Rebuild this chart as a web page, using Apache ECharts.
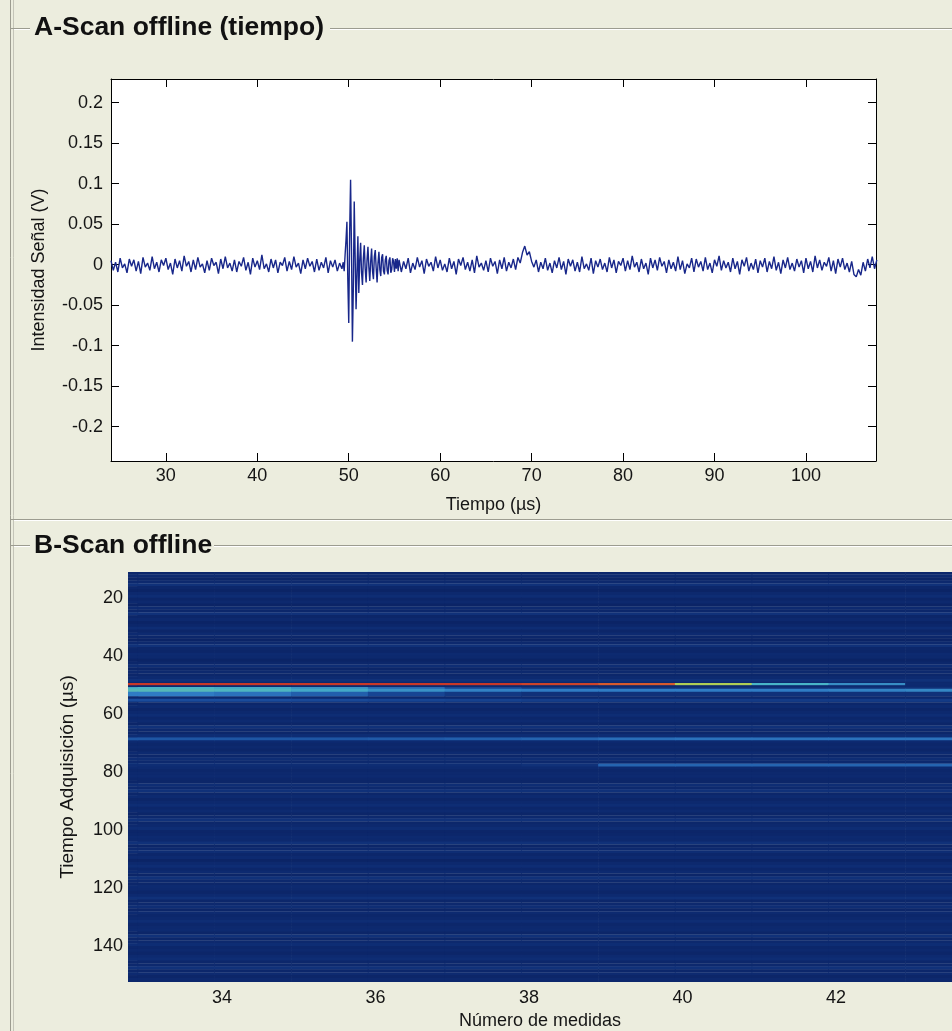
<!DOCTYPE html>
<html>
<head>
<meta charset="utf-8">
<script src="https://cdn.jsdelivr.net/npm/echarts@6/dist/echarts.min.js"></script>
<style>
html,body{margin:0;padding:0;background:#ecedde;overflow:hidden}
#c{width:952px;height:1031px}
</style>
</head>
<body>
<div id="c"></div>
<script>
// ---------------- DATA ----------------
const panelTitleA = 'A-Scan offline (tiempo)';
const panelTitleB = 'B-Scan offline';

// A-Scan: time axis ticks (µs) and amplitude ticks (V)
const ascanTimeTicks = [30, 40, 50, 60, 70, 80, 90, 100];
const ascanVoltTicks = [-0.2, -0.15, -0.1, -0.05, 0, 0.05, 0.1, 0.15, 0.2];

// A-Scan samples (millivolts)
const ascanPreStart = 24.0, ascanPreStep = 0.25;
const ascanPreMilliVolts = [
  5,-7,3,-9,8,-4,1,-10,7,-2, 6,-8,4,-11,9,-3,2,-7,10,-5,
  3,-9,6,-1,8,-6,2,-12,7,-4, 5,-8,11,-2,4,-9,6,-6,9,-3,
  1,-10,5,-7,8,-1,3,-11,7,-5, 10,-4,2,-8,6,-9,4,-2,9,-7,
  3,-12,8,-3,5,-6,12,-5,1,-9, 7,-4,6,-10,3,-1,9,-8,4,-6,
  10,-3,2,-11,6,-5,8,-2,4,-9, 7,-7,3,-4,9,-10,5,-3,6,-8,
  2,-5
];
const ascanBurstStart = 49.4, ascanBurstStep = 0.1;
const ascanBurstMilliVolts = [
  3,-8,12,30,53,-20,-72,40,105,20,
  -95,-30,78,10,-55,-10,35,-35,5,27,
  -10,-25,8,24,-5,-22,6,22,-3,-20,
  4,20,-8,-18,10,18,-4,-22,2,16,
  -6,-14,9,13,-8,-12,6,11,-7,-12,
  5,9,-10,-6,8,4,-9,7,-5,8,
  -8
];
const ascanPostStart = 55.5, ascanPostStep = 0.25;
const ascanPostMilliVolts = [
  6,-9,4,-5,8,-10,2,-6,9,-3,
  5,-11,7,-2,3,-8,10,-4,6,-7,
  1,-9,8,-5,4,-12,7,-1,9,-6,
  3,-8,6,-10,11,-3,2,-7,5,-9,
  8,-2,4,-11,6,-5,9,-8,3,-4,
  7,-6,9,2,15,23,12,16,4,-3,
  6,-9,3,-5,8,-7,2,-10,5,-4,
  9,-6,4,-12,7,-2,6,-8,3,-9,
  10,-5,1,-7,8,-11,5,-3,7,-6,
  2,-9,9,-4,6,-10,4,-1,8,-8,
  5,-6,11,-3,3,-9,7,-5,2,-12,
  8,-4,6,-7,9,-2,4,-10,6,-5,
  3,-8,10,-6,5,-11,1,-4,8,-9,
  7,-3,4,-8,9,-6,2,-10,6,-2,
  11,-7,5,-4,3,-9,8,-5,4,-12,
  6,-2,9,-8,2,-6,7,-10,5,-3,
  8,-9,4,-5,10,-7,3,-11,6,-4,
  9,-6,2,-8,7,-3,5,-10,8,-5,
  4,-9,11,-4,6,-7,3,-2,9,-8,
  5,-11,7,-3,8,-6,2,-9,4,-12,
  -15,-6,-13,3,-8,7,-4,10,-5,6
];

// B-Scan: measurement columns, time rows (µs), normalised intensity
const bscanMeasureTicks = [34, 36, 38, 40, 42];
const bscanTimeTicks = [20, 40, 60, 80, 100, 120, 140];
const bscanColumns = [32.4, 33.4, 34.4, 35.4, 36.4, 37.4, 38.4, 39.4, 40.4, 41.4, 42.4, 43.4];
const bscanRowStart = 11, bscanRowStep = 1;
const bscanRowLevels = [
  0.08,0.10,0.07,0.09,0.12,0.08,0.06,0.09,0.11,0.07,
  0.09,0.06,0.10,0.08,0.12,0.07,0.09,0.06,0.08,0.11,
  0.07,0.10,0.08,0.06,0.09,0.12,0.08,0.07,0.10,0.09,
  0.06,0.08,0.11,0.07,0.09,0.08,0.10,0.12,0.09,0.10,
  0.11,0.12,0.10,0.09,0.13,0.08,0.10,0.07,0.09,0.11,
  0.08,0.10,0.07,0.12,0.09,0.08,0.11,0.13,0.10,0.08,
  0.09,0.07,0.10,0.08,0.11,0.09,0.12,0.10,0.08,0.09,
  0.10,0.08,0.07,0.11,0.09,0.12,0.08,0.10,0.07,0.09,
  0.11,0.08,0.10,0.07,0.09,0.12,0.08,0.09,0.11,0.07,
  0.08,0.10,0.09,0.12,0.07,0.09,0.11,0.08,0.10,0.06,
  0.09,0.11,0.08,0.10,0.07,0.12,0.09,0.08,0.10,0.09,
  0.07,0.10,0.12,0.08,0.09,0.11,0.07,0.10,0.08,0.09,
  0.11,0.08,0.09,0.10,0.07,0.12,0.08,0.09,0.11,0.08,
  0.09,0.07,0.10,0.11,0.08,0.09,0.12,0.08,0.10,0.07,0.09,0.08
];
const bscanEchoSpans = [
  [49.4, 50.2], [50.2, 50.8], [50.8, 51.4], [51.4, 52.4],
  [52.4, 53.8], [54.8, 55.6], [68.2, 69.0], [77.2, 78.0]
];
const bscanEchoLevels = [
  [0.90,0.90,0.90,0.90,0.90,0.90,0.88,0.84,0.56,0.40,0.33,0.10],
  [0.10,0.10,0.10,0.10,0.10,0.10,0.10,0.10,0.10,0.10,0.10,0.10],
  [0.40,0.40,0.38,0.34,0.26,0.18,0.14,0.12,0.12,0.12,0.12,0.12],
  [0.42,0.42,0.41,0.38,0.34,0.31,0.30,0.30,0.30,0.30,0.31,0.32],
  [0.30,0.30,0.28,0.24,0.18,0.14,0.12,0.12,0.12,0.12,0.12,0.12],
  [0.20,0.20,0.20,0.19,0.18,0.17,0.16,0.15,0.15,0.15,0.15,0.15],
  [0.22,0.22,0.22,0.22,0.23,0.24,0.25,0.27,0.28,0.28,0.28,0.28],
  [0.11,0.11,0.11,0.11,0.11,0.11,0.12,0.25,0.25,0.25,0.25,0.25]
];

// ---------------- BUILD ----------------
function segment(start, step, mv) { return mv.map((v, i) => [start + i * step, v / 1000]); }
const ascanData = [].concat(
  segment(ascanPreStart, ascanPreStep, ascanPreMilliVolts),
  segment(ascanBurstStart, ascanBurstStep, ascanBurstMilliVolts),
  segment(ascanPostStart, ascanPostStep, ascanPostMilliVolts)
);

const baseCells = [];
bscanRowLevels.forEach((lv, r) => {
  const t0 = bscanRowStart + r * bscanRowStep, t1 = t0 + bscanRowStep;
  bscanColumns.forEach(c => baseCells.push([c, t0, t1, lv]));
});
const echoCells = [];
bscanEchoSpans.forEach((sp, k) => {
  bscanColumns.forEach((c, j) => echoCells.push([c, sp[0], sp[1], bscanEchoLevels[k][j]]));
});

function renderCell(params, api) {
  const x = api.value(0), t0 = api.value(1), t1 = api.value(2);
  const a = api.coord([x - 0.5, t0]);
  const b = api.coord([x + 0.5, t1]);
  const cs = params.coordSys;
  const r = echarts.graphic.clipRectByRect({
    x: Math.min(a[0], b[0]), y: Math.min(a[1], b[1]),
    width: Math.abs(b[0] - a[0]) + 0.6, height: Math.abs(b[1] - a[1]) + 0.4
  }, { x: cs.x, y: cs.y, width: cs.width, height: cs.height });
  if (!r) return null;
  return { type: 'rect', shape: r, style: { fill: api.visual('color') } };
}

const FONT = '"Liberation Sans", Arial, sans-serif';
const TXT = '#151515';
const labelStyle = { fontFamily: FONT, fontSize: 18, color: TXT };
const nameStyle = { fontFamily: FONT, fontSize: 18, color: TXT };
const blk = { lineStyle: { color: '#000', width: 1 } };

const chart = echarts.init(document.getElementById('c'), null, { renderer: 'canvas' });
chart.setOption({
  animation: false,
  backgroundColor: '#ecedde',
  grid: [
    { left: 111, top: 79, right: 76, bottom: 570, backgroundColor: '#ffffff', show: true, borderWidth: 0, outerBoundsMode: 'none' },
    { left: 128, top: 572, right: 0, bottom: 49, show: false, outerBoundsMode: 'none' }
  ],
  xAxis: [
    { type: 'value', gridIndex: 0, position: 'bottom', min: 24, max: 107.66,
      axisLine: { show: true, onZero: false, ...blk },
      axisTick: { show: true, inside: true, length: 8, customValues: ascanTimeTicks, ...blk },
      axisLabel: { customValues: ascanTimeTicks, margin: 6, ...labelStyle },
      splitLine: { show: false },
      name: 'Tiempo (µs)', nameLocation: 'middle', nameGap: 35, nameTextStyle: nameStyle },
    { type: 'value', gridIndex: 0, position: 'top', min: 24, max: 107.66,
      axisLine: { show: true, onZero: false, ...blk },
      axisTick: { show: true, inside: true, length: 8, customValues: ascanTimeTicks, ...blk },
      axisLabel: { show: false }, splitLine: { show: false } },
    { type: 'value', gridIndex: 1, position: 'bottom', min: 32.775, max: 43.51,
      axisLine: { show: false, onZero: false },
      axisTick: { show: false },
      axisLabel: { customValues: bscanMeasureTicks, margin: 7, ...labelStyle },
      splitLine: { show: false },
      name: 'Número de medidas', nameLocation: 'middle', nameGap: 30, nameTextStyle: nameStyle }
  ],
  yAxis: [
    { type: 'value', gridIndex: 0, position: 'left', min: -0.2424, max: 0.2293,
      axisLine: { show: true, onZero: false, ...blk },
      axisTick: { show: true, inside: true, length: 8, customValues: ascanVoltTicks, ...blk },
      axisLabel: { customValues: ascanVoltTicks, margin: 8, ...labelStyle },
      splitLine: { show: false },
      name: 'Intensidad Señal (V)', nameLocation: 'middle', nameGap: 63, nameTextStyle: nameStyle },
    { type: 'value', gridIndex: 0, position: 'right', min: -0.2424, max: 0.2293,
      axisLine: { show: true, onZero: false, ...blk },
      axisTick: { show: true, inside: true, length: 8, customValues: ascanVoltTicks, ...blk },
      axisLabel: { show: false }, splitLine: { show: false } },
    { type: 'value', gridIndex: 1, inverse: true, min: 11.15, max: 152.4,
      axisLine: { show: false, onZero: false },
      axisTick: { show: false },
      axisLabel: { customValues: bscanTimeTicks, margin: 5, ...labelStyle },
      splitLine: { show: false },
      name: 'Tiempo Adquisición (µs)', nameLocation: 'middle', nameGap: 51, nameTextStyle: { ...nameStyle, fontSize: 19 } }
  ],
  visualMap: {
    type: 'continuous', show: false, min: 0, max: 1, dimension: 3, seriesIndex: [1, 2],
    inRange: { color: ['#081c58', '#0d2a70', '#1a4c9c', '#2f7cc4', '#48b4c8', '#88c878',
                       '#c8d040', '#e8a838', '#e07030', '#c83828', '#901818'] }
  },
  series: [
    { type: 'line', xAxisIndex: 0, yAxisIndex: 0, data: ascanData, showSymbol: false, symbol: 'none',
      clip: true, lineStyle: { width: 1.4, color: '#18278a' }, z: 3 },
    { type: 'custom', xAxisIndex: 2, yAxisIndex: 2, data: baseCells, renderItem: renderCell,
      encode: { x: 0, y: [1, 2] }, clip: true, z: 2 },
    { type: 'custom', xAxisIndex: 2, yAxisIndex: 2, data: echoCells, renderItem: renderCell,
      encode: { x: 0, y: [1, 2] }, clip: true, z: 3 }
  ],
  graphic: [
    { type: 'line', shape: { x1: 10.5, y1: 0, x2: 10.5, y2: 1031 }, style: { stroke: '#9c9c90', lineWidth: 1 }, silent: true },
    { type: 'line', shape: { x1: 13.5, y1: 0, x2: 13.5, y2: 1031 }, style: { stroke: '#c4c4b8', lineWidth: 1 }, silent: true },
    { type: 'line', shape: { x1: 10, y1: 28.5, x2: 30, y2: 28.5 }, style: { stroke: '#9c9c90', lineWidth: 1 }, silent: true },
    { type: 'line', shape: { x1: 330, y1: 28.5, x2: 952, y2: 28.5 }, style: { stroke: '#9c9c90', lineWidth: 1 }, silent: true },
    { type: 'line', shape: { x1: 14, y1: 29.5, x2: 30, y2: 29.5 }, style: { stroke: '#ffffff', lineWidth: 1 }, silent: true },
    { type: 'line', shape: { x1: 330, y1: 29.5, x2: 952, y2: 29.5 }, style: { stroke: '#ffffff', lineWidth: 1 }, silent: true },
    { type: 'line', shape: { x1: 10, y1: 519.5, x2: 952, y2: 519.5 }, style: { stroke: '#9c9c90', lineWidth: 1 }, silent: true },
    { type: 'line', shape: { x1: 14, y1: 520.5, x2: 952, y2: 520.5 }, style: { stroke: '#ffffff', lineWidth: 1 }, silent: true },
    { type: 'line', shape: { x1: 10, y1: 545.5, x2: 30, y2: 545.5 }, style: { stroke: '#9c9c90', lineWidth: 1 }, silent: true },
    { type: 'line', shape: { x1: 214, y1: 545.5, x2: 952, y2: 545.5 }, style: { stroke: '#9c9c90', lineWidth: 1 }, silent: true },
    { type: 'line', shape: { x1: 14, y1: 546.5, x2: 30, y2: 546.5 }, style: { stroke: '#ffffff', lineWidth: 1 }, silent: true },
    { type: 'line', shape: { x1: 214, y1: 546.5, x2: 952, y2: 546.5 }, style: { stroke: '#ffffff', lineWidth: 1 }, silent: true },
    { type: 'text', x: 34, y: 28, silent: true,
      style: { text: panelTitleA, font: 'bold 26.5px ' + FONT, fill: '#111111', textVerticalAlign: 'middle', verticalAlign: 'middle' } },
    { type: 'text', x: 34, y: 546, silent: true,
      style: { text: panelTitleB, font: 'bold 26.5px ' + FONT, fill: '#111111', textVerticalAlign: 'middle', verticalAlign: 'middle' } }
  ]
});
</script>
</body>
</html>
